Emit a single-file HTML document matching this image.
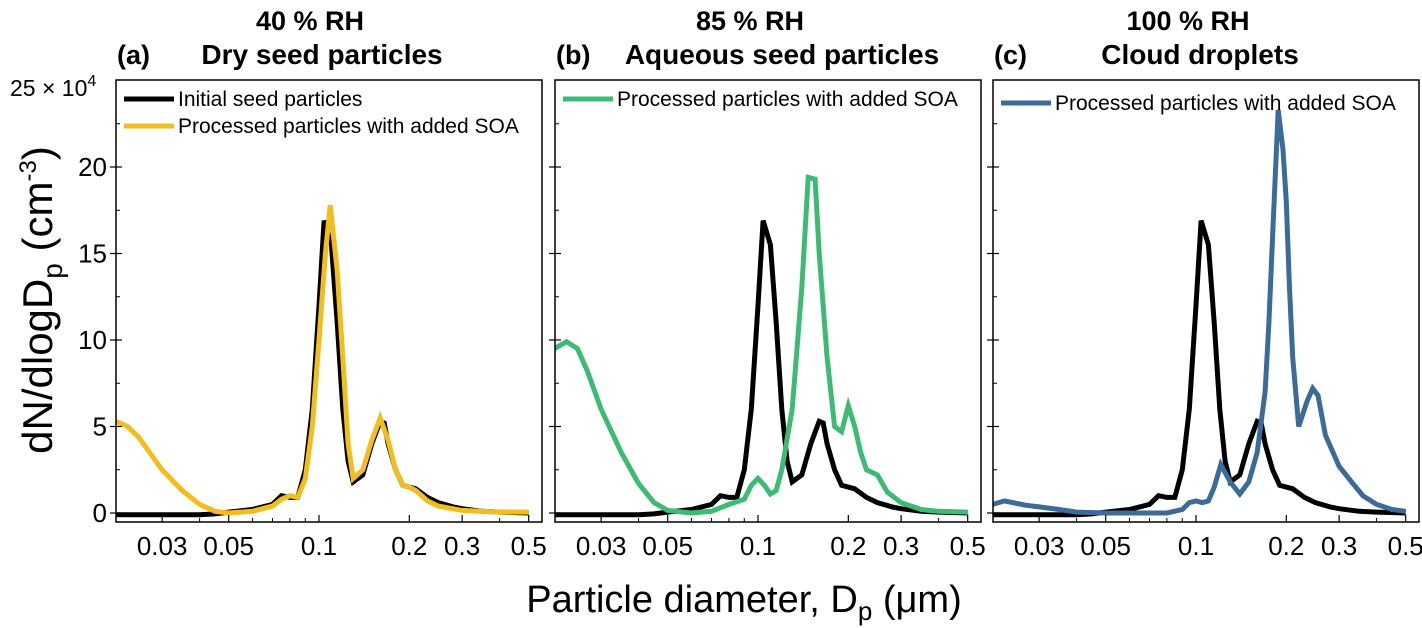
<!DOCTYPE html>
<html><head><meta charset="utf-8"><style>
body{margin:0;background:#fff;}
svg{display:block;font-family:"Liberation Sans",Arial,sans-serif;}
</style></head><body>
<svg id="chart" width="1422" height="628" viewBox="0 0 1422 628" xmlns="http://www.w3.org/2000/svg">
<text x="744" y="612" font-size="38" text-anchor="middle">Particle diameter, D<tspan font-size="26" dy="8">p</tspan><tspan dy="-8"> (μm)</tspan></text>
<text transform="translate(52,300) rotate(-90)" font-size="42" text-anchor="middle">dN/dlogD<tspan font-size="28" dy="10">p</tspan><tspan dy="-10"> (cm</tspan><tspan font-size="24" dy="-16">-3</tspan><tspan dy="16">)</tspan></text>
<text x="10" y="96" font-size="23">25 × 10<tspan font-size="16" dy="-10">4</tspan></text>
</svg>
<script>
const diamBlack=[0.021,0.03,0.04,0.045,0.05,0.06,0.07,0.075,0.08,0.085,0.09,0.095,0.1,0.104,0.11,0.115,0.12,0.125,0.13,0.14,0.15,0.16,0.165,0.17,0.18,0.19,0.2,0.21,0.23,0.25,0.28,0.3,0.35,0.4,0.5];
const valBlack=[-0.1,-0.1,-0.1,-0.05,0.05,0.2,0.5,1.0,0.9,0.9,2.5,6,12,16.9,15.5,11,6,3,1.8,2.2,4,5.3,5.2,4,2.5,1.6,1.5,1.4,0.9,0.6,0.35,0.25,0.1,0.05,0];
const diamYellow=[0.021,0.023,0.025,0.03,0.035,0.04,0.045,0.05,0.06,0.07,0.075,0.08,0.085,0.09,0.095,0.1,0.105,0.109,0.115,0.12,0.125,0.13,0.14,0.15,0.16,0.17,0.18,0.19,0.2,0.21,0.23,0.25,0.3,0.4,0.5];
const valYellow=[5.3,5.0,4.4,2.5,1.3,0.5,0.1,0,0.1,0.4,0.8,1.0,0.9,2,5,10,15,17.8,14,9,4,2,2.5,4.2,5.5,4.2,2.5,1.6,1.5,1.3,0.7,0.4,0.15,0.05,0.05];
const diamGreen=[0.021,0.023,0.025,0.027,0.03,0.035,0.04,0.045,0.05,0.06,0.07,0.08,0.09,0.095,0.1,0.105,0.11,0.115,0.12,0.13,0.14,0.147,0.155,0.16,0.17,0.18,0.19,0.2,0.21,0.22,0.23,0.25,0.27,0.3,0.35,0.4,0.5];
const valGreen=[9.5,9.9,9.5,8.2,6,3.5,1.7,0.6,0.15,0,0.1,0.5,0.8,1.6,2.0,1.6,1.1,1.3,2.5,6,13,19.4,19.3,15,9,5,4.7,6.2,5,3.5,2.5,2.2,1.2,0.6,0.2,0.1,0.05];
const diamBlue=[0.021,0.023,0.027,0.03,0.035,0.04,0.05,0.08,0.09,0.095,0.1,0.105,0.11,0.115,0.121,0.13,0.14,0.15,0.16,0.17,0.175,0.18,0.188,0.195,0.2,0.205,0.21,0.22,0.235,0.245,0.255,0.27,0.3,0.33,0.36,0.4,0.45,0.5];
const valBlue=[0.5,0.7,0.45,0.35,0.2,0.05,0,0,0.2,0.6,0.7,0.6,0.7,1.5,2.8,1.8,1.1,1.8,3.5,7,11,16,23.3,21,18,13,9,5,6.5,7.2,6.8,4.5,2.7,1.8,1.0,0.5,0.2,0.1];
const xTicks=[0.03,0.05,0.1,0.2,0.3,0.5];
const xTickLabels=["0.03","0.05","0.1","0.2","0.3","0.5"];
const xMinor=[0.04,0.06,0.07,0.08,0.09,0.4];
const yTicks=[0,5,10,15,20];
const yMinorTicks=[2.5,7.5,12.5,17.5,22.5];

const svg=document.getElementById('chart');
const NS='http://www.w3.org/2000/svg';
const TOP=80,BOT=522,Y0=513,PXU=17.3,DEC=300;
function mk(tag,attrs){const e=document.createElementNS(NS,tag);for(const k in attrs)e.setAttribute(k,attrs[k]);svg.appendChild(e);return e;}
const panels=[
 {left:116,key:'a',rh:'40 % RH',rhX:310,subX:322,sub:'Dry seed particles',series:[[diamYellow,valYellow,'#f3bd1e']],legend:[['Initial seed particles','#000'],['Processed particles with added SOA','#f3bd1e']]},
 {left:555,key:'b',rh:'85 % RH',rhX:750,subX:782,sub:'Aqueous seed particles',series:[[diamGreen,valGreen,'#3dbb74']],legend:[['Processed particles with added SOA','#3dbb74']]},
 {left:993,key:'c',rh:'100 % RH',rhX:1188,subX:1200,sub:'Cloud droplets',series:[[diamBlue,valBlue,'#3a6b99']],legend:[['Processed particles with added SOA','#3a6b99']]}
];
panels.forEach(p=>{
 const L=p.left,R=L+426;
 const xs=d=>L+203+Math.log10(d/0.1)*DEC;
 const ys=v=>Y0-v*PXU;
 let t=mk('text',{x:p.rhX,y:30,'font-size':27,'font-weight':'bold','text-anchor':'middle'});t.textContent=p.rh;
 
 
 t=mk('text',{x:L+1,y:64,'font-size':27,'font-weight':'bold'});t.textContent='('+p.key+')';
 
 
 t=mk('text',{x:p.subX,y:64,'font-size':28,'font-weight':'bold','text-anchor':'middle'});t.textContent=p.sub;
 
 
 const clipId='clip'+p.key;
 const cp=mk('clipPath',{id:clipId});cp.appendChild(document.createElementNS(NS,'rect'));
 const cr=cp.firstChild;cr.setAttribute('x',L);cr.setAttribute('y',TOP);cr.setAttribute('width',426);cr.setAttribute('height',BOT-TOP);
 function line(xsArr,vals,color,name){
  const pts=xsArr.map((d,i)=>xs(d).toFixed(1)+','+ys(vals[i]).toFixed(1)).join(' ');
  const pl=mk('polyline',{points:pts,fill:'none',stroke:color,'stroke-width':5,'stroke-linejoin':'miter','clip-path':'url(#'+clipId+')'});
  
  
 }
 line(diamBlack,valBlack,'#000','panel-'+p.key+'-initial-seed-line');
 p.series.forEach(s=>line(s[0],s[1],s[2],'panel-'+p.key+'-processed-soa-line'));
 const box=mk('rect',{x:L,y:TOP,width:426,height:BOT-TOP,fill:'none',stroke:'#000','stroke-width':1.5});
 
 
 xTicks.forEach((d,i)=>{
  const x=xs(d);
  const tk=mk('line',{x1:x,x2:x,y1:BOT,y2:BOT-7,stroke:'#000','stroke-width':1.2});
  
  
  const lb=mk('text',{x:x,y:555,'font-size':26,'text-anchor':'middle'});lb.textContent=xTickLabels[i];
  
  
 });
 xMinor.forEach(d=>{const x=xs(d);const tk=mk('line',{x1:x,x2:x,y1:BOT,y2:BOT-4,stroke:'#000','stroke-width':1});
  
  });
 yTicks.forEach(v=>{const y=ys(v);const tk=mk('line',{x1:L-6,x2:L+6,y1:y,y2:y,stroke:'#000','stroke-width':1.2});
  
  
  if(p.key==='a'){const lb=mk('text',{x:L-9,y:y+9,'font-size':26,'text-anchor':'end'});lb.textContent=String(v);
   
   }
 });
 yMinorTicks.forEach(v=>{const y=ys(v);const tk=mk('line',{x1:L,x2:L+4,y1:y,y2:y,stroke:'#000','stroke-width':1});
  
  });
 p.legend.forEach((e,i)=>{
  const y=99+i*27+(p.key==='c'?4:0);
  const ln=mk('line',{x1:L+8,x2:L+58,y1:y,y2:y,stroke:e[1],'stroke-width':5});
  
  
  const tx=mk('text',{x:L+62,y:y+7,'font-size':21});tx.textContent=e[0];
  
  
 });
});
</script>
</body></html>
